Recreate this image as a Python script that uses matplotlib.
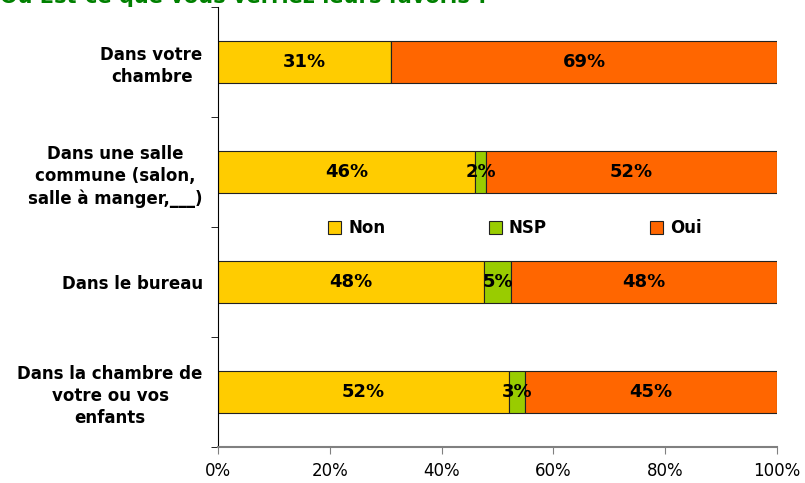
import numpy as np
import matplotlib.pyplot as plt

# data
categories = ["Dans votre\nchambre",
              "Dans une salle\ncommune (salon,\nsalle à manger,___)",
              "Dans le bureau",
              "Dans la chambre de\nvotre ou vos\nenfants"]
non = [31, 46, 48, 52]
nsp = [0, 2, 5, 3]
oui = [69, 52, 48, 45]
series = ["Non", "NSP", "Oui"]
colors = ["#FFCC00", "#99CC00", "#FF6600"]

plt.rcParams['font.family'] = 'DejaVu Sans'

fig = plt.figure(figsize=(8.05, 4.83), dpi=100)
ax = fig.add_axes([218 / 805, 1 - 447 / 483, (777 - 218) / 805, (447 - 7) / 483])

vals = np.array([non, nsp, oui], dtype=float)
shares = vals / vals.sum(axis=0) * 100
y = np.arange(len(categories))
left = np.zeros(len(categories))
for i, name in enumerate(series):
    bars = ax.barh(y, shares[i], left=left, height=0.39, color=colors[i],
                   edgecolor='#222222', linewidth=0.8, label=name)
    for j, b in enumerate(bars):
        if vals[i, j] > 0:
            ax.text(left[j] + shares[i, j] / 2, y[j], f"{int(vals[i, j])}%",
                    ha='center', va='center', fontsize=13, fontweight='bold')
    left += shares[i]

ax.set_xlim(0, 100)
ax.set_ylim(len(categories) - 0.5, -0.5)
ax.set_xticks(np.arange(0, 101, 20))
ax.set_xticklabels([f"{v}%" for v in range(0, 101, 20)], fontsize=12)
ax.set_yticks(y)
ax.set_yticklabels(categories, fontsize=12, fontweight='bold',
                   multialignment='center', linespacing=1.3)
ax.tick_params(axis='y', length=0, pad=11)
ax.set_yticks(np.arange(-0.5, len(categories)), minor=True)
ax.tick_params(axis='y', which='minor', length=5, direction='out')
ax.tick_params(axis='x', length=5, direction='out', color='#808080', pad=6)

for s in ['top', 'right']:
    ax.spines[s].set_visible(False)
ax.spines['bottom'].set_color('#808080')
ax.spines['bottom'].set_linewidth(1.5)
ax.spines['left'].set_color('black')

leg = ax.legend(loc='center', bbox_to_anchor=(0.531, (447 - 228) / (447 - 7)),
                ncol=3, frameon=False, columnspacing=6.2, handlelength=0.8,
                handleheight=0.8, handletextpad=0.4,
                prop={'weight': 'bold', 'size': 12})

fig.text(0.0, 1.008, "Où Est-ce que vous verriez leurs favoris ?", color='#008000',
         fontsize=15, fontweight='bold', ha='left', va='center')

fig.savefig("out.png", dpi=100)
